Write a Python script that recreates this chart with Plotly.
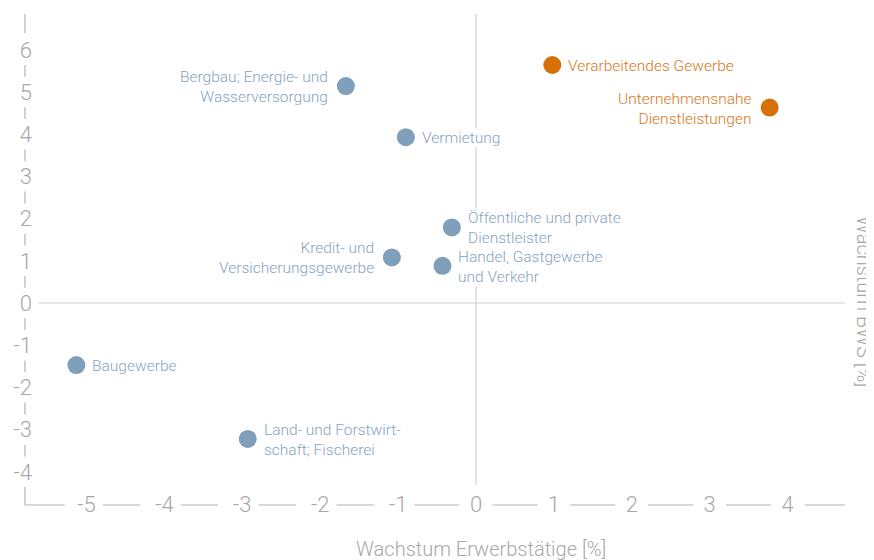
import plotly.graph_objects as go

# ---------------- data ----------------
sectors = [
    "Verarbeitendes Gewerbe",
    "Unternehmensnahe<br>Dienstleistungen",
    "Bergbau; Energie- und<br>Wasserversorgung",
    "Vermietung",
    "Öffentliche und private<br>Dienstleister",
    "Kredit- und<br>Versicherungsgewerbe",
    "Handel, Gastgewerbe<br>und Verkehr",
    "Baugewerbe",
    "Land- und Forstwirt-<br>schaft; Fischerei",
]
growth_employed = [0.98, 3.77, -1.67, -0.90, -0.31, -1.08, -0.43, -5.13, -2.93]
growth_gva = [5.64, 4.63, 5.14, 3.93, 1.79, 1.08, 0.88, -1.47, -3.22]
highlighted = [True, True, False, False, False, False, False, False, False]
label_side = ["right", "left", "left", "right", "right", "left", "right", "right", "right"]

x_ticks = [-5, -4, -3, -2, -1, 0, 1, 2, 3, 4]
y_ticks = [-4, -3, -2, -1, 0, 1, 2, 3, 4, 5, 6]

x_title = "Wachstum Erwerbstätige [%]"
y_title = "Wachstum BWS [%]"

# ---------------- style ----------------
ORANGE = "#D7700B"
ORANGE_TXT = "#D8781C"
BLUE = "#809FBB"
BLUE_TXT = "#87A4C0"
AXIS_TXT = "#A8A8A8"
AXIS_LINE = "#B4B4B4"
ZERO_LINE = "#D2D2D2"
FONT = "Roboto"

X_RANGE = [-5.815, 4.763]
Y_RANGE = [-4.834, 6.896]
X_SPINE = -5.79
Y_SPINE = -4.787
X_END = 4.737
Y_END = 6.85

fig = go.Figure()

colors = [ORANGE if h else BLUE for h in highlighted]
fig.add_trace(go.Scatter(
    x=growth_employed, y=growth_gva, mode="markers",
    marker=dict(size=18, color=colors, line=dict(width=0)),
    hoverinfo="skip", showlegend=False,
))

# labels
annotations = []
for name, xv, yv, h, side in zip(sectors, growth_employed, growth_gva, highlighted, label_side):
    annotations.append(dict(
        x=xv, y=yv, xref="x", yref="y", text=name, showarrow=False,
        xanchor="left" if side == "right" else "right",
        align="left" if side == "right" else "right",
        yanchor="middle",
        xshift=15 if side == "right" else -17, yshift=-1,
        font=dict(family=FONT, size=15.5, color=ORANGE_TXT if h else BLUE_TXT, weight=300),
        bgcolor="white", borderpad=0,
    ))

annotations.append(dict(
    x=0.556, xref="paper", y=-0.056, yref="paper", yanchor="top",
    text=x_title, showarrow=False,
    font=dict(family=FONT, size=20, color=AXIS_TXT, weight=300),
))
annotations.append(dict(
    x=1.0206, xref="paper", y=0.414, yref="paper", xanchor="center", yanchor="middle",
    text=y_title, textangle=90, showarrow=False,
    font=dict(family=FONT, size=20, color=AXIS_TXT, weight=300),
))

shapes = []
# zero lines
shapes.append(dict(type="line", xref="x", yref="y", x0=0, x1=0, y0=-4.32, y1=Y_END,
                   line=dict(color=ZERO_LINE, width=1.2), layer="below"))
shapes.append(dict(type="line", xref="x", yref="y", x0=-5.62, x1=X_END, y0=0, y1=0,
                   line=dict(color=ZERO_LINE, width=1.2), layer="below"))

# broken y axis line (gaps at tick labels)
yseg = [(y_ticks[-1] + 0.4, Y_END)]
for k in y_ticks[:-1]:
    yseg.append((k + 0.36, k + 0.64))
yseg.append((Y_SPINE, y_ticks[0] - 0.36))
for a, b in yseg:
    shapes.append(dict(type="line", xref="x", yref="y", x0=X_SPINE, x1=X_SPINE, y0=a, y1=b,
                       line=dict(color=AXIS_LINE, width=1.2)))

# broken x axis line (gaps at tick labels)
xseg = [(X_SPINE, x_ticks[0] - 0.28)]
for k in x_ticks[:-1]:
    xseg.append((k + 0.21, k + 1 - (0.31 if k + 1 < 0 else 0.21)))
xseg.append((x_ticks[-1] + 0.22, X_END))
for a, b in xseg:
    shapes.append(dict(type="line", xref="x", yref="y", x0=a, x1=b, y0=Y_SPINE, y1=Y_SPINE,
                       line=dict(color=AXIS_LINE, width=1.2)))

# page body has an 8px default margin: figure is sized/offset to compensate
fig.update_layout(
    width=866, height=552,
    margin=dict(l=15, r=27, t=4, b=53, autoexpand=False),
    paper_bgcolor="white", plot_bgcolor="white",
    font=dict(family=FONT),
    annotations=annotations, shapes=shapes,
    xaxis=dict(range=X_RANGE, tickvals=x_ticks, ticktext=[str(v) for v in x_ticks],
               showgrid=False, zeroline=False, showline=False, ticks="", automargin=False,
               tickfont=dict(family=FONT, size=22, color=AXIS_TXT, weight=300),
               ticklabelstandoff=-18, fixedrange=True),
    yaxis=dict(range=Y_RANGE, tickvals=y_ticks, ticktext=[str(v) for v in y_ticks],
               showgrid=False, zeroline=False, showline=False, ticks="", automargin=False,
               tickfont=dict(family=FONT, size=22, color=AXIS_TXT, weight=300),
               ticklabelstandoff=-10, fixedrange=True),
)

fig.write_html("out.html")
